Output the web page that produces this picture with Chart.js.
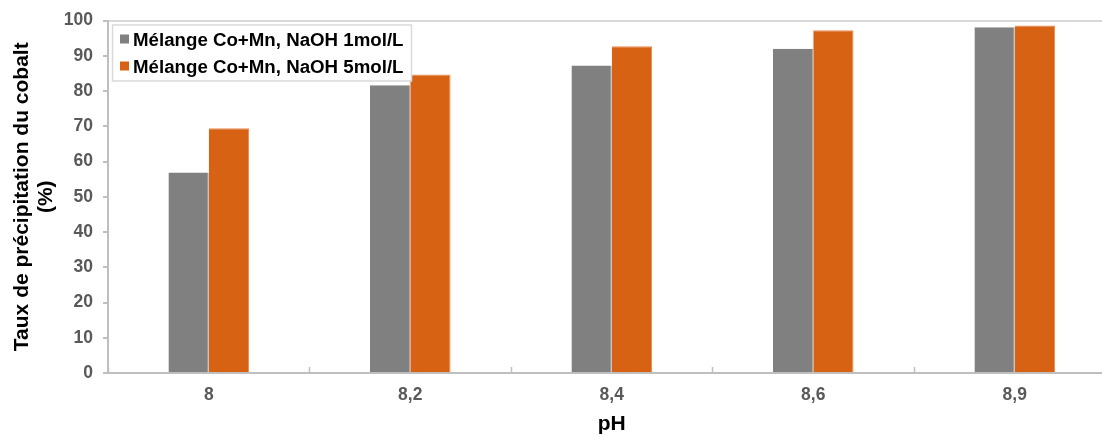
<!DOCTYPE html>
<html>
<head>
<meta charset="utf-8">
<script src="https://cdn.jsdelivr.net/npm/chart.js@4/dist/chart.umd.min.js"></script>
<style>
html,body{margin:0;padding:0;background:#fff;overflow:hidden;width:1102px;height:437px;}
#wrap{position:relative;width:1118px;height:437px;}
</style>
</head>
<body>
<div id="wrap"><canvas id="c"></canvas></div>
<script>
const categories = ['8', '8,2', '8,4', '8,6', '8,9'];
const naoh1 = [56.9, 81.6, 87.2, 92.0, 98.1];
const naoh5 = [69.4, 84.7, 92.7, 97.2, 98.6];
const seriesLabels = ['Mélange Co+Mn, NaOH 1mol/L', 'Mélange Co+Mn, NaOH 5mol/L'];
const yTitle = ['Taux de précipitation du cobalt', '(%)'];
const xTitle = 'pH';

const FONT = '"Liberation Sans", Arial, sans-serif';

const legendPlugin = {
  id: 'insideLegend',
  afterDraw(chart) {
    const ctx = chart.ctx;
    const ca = chart.chartArea;
    const x0 = ca.left + 4, y0 = ca.top + 4, w = 299, h = 56;
    ctx.save();
    ctx.fillStyle = '#ffffff';
    ctx.fillRect(x0, y0, w, h);
    ctx.strokeStyle = '#d9d9d9';
    ctx.lineWidth = 1.5;
    ctx.strokeRect(x0 + 0.5, y0 + 0.5, w, h);
    ctx.font = 'bold 18.7px ' + FONT;
    ctx.textBaseline = 'middle';
    chart.data.datasets.forEach((ds, i) => {
      const cy = y0 + 15 + i * 27;
      ctx.fillStyle = ds.backgroundColor;
      ctx.fillRect(x0 + 8, cy - 5, 9, 9);
      ctx.fillStyle = '#000000';
      ctx.fillText(ds.label, x0 + 21, cy + 1);
    });
    ctx.restore();
  }
};

new Chart(document.getElementById('c'), {
  type: 'bar',
  data: {
    labels: categories,
    datasets: [
      { label: seriesLabels[0], data: naoh1, backgroundColor: '#808080', borderColor: '#a0a0a0', borderWidth: {right: 1} },
      { label: seriesLabels[1], data: naoh5, backgroundColor: '#d86214', borderColor: '#e88d55', borderWidth: {top: 1, right: 1} }
    ]
  },
  options: {
    responsive: true,
    maintainAspectRatio: false,
    animation: false,
    datasets: { bar: { categoryPercentage: 0.4, barPercentage: 1.0 } },
    layout: { padding: { top: 19, right: 2.5, left: 0, bottom: 0 } },
    plugins: { legend: { display: false }, tooltip: { enabled: false } },
    scales: {
      x: {
        grid: { color: 'transparent', tickColor: '#bfbfbf', tickLength: -6, tickWidth: 1.5, offset: true },
        border: { color: '#bfbfbf', width: 2 },
        ticks: { color: '#595959', font: { family: FONT, size: 17.5, weight: 'bold' }, padding: 18 },
        title: { display: true, text: xTitle, color: '#000', font: { family: FONT, size: 21, weight: 'bold' }, padding: { top: 8, bottom: 0 } },
        afterFit(s) { s.height = 64; }
      },
      y: {
        min: 0, max: 100,
        ticks: { stepSize: 10, color: '#595959', font: { family: FONT, size: 17.5, weight: 'bold' }, padding: 10 },
        grid: { color: (c) => c.tick && c.tick.value === 100 ? '#d9d9d9' : 'transparent', tickColor: '#bfbfbf', tickLength: 5, lineWidth: 2 },
        border: { color: '#bfbfbf', width: 2 },
        title: { display: true, text: yTitle, color: '#000', font: { family: FONT, size: 21, weight: 'bold', lineHeight: 1.15 }, padding: { top: 10, bottom: 0 } },
        afterFit(s) { s.width = 108; }
      }
    }
  },
  plugins: [legendPlugin]
});
</script>
</body>
</html>
